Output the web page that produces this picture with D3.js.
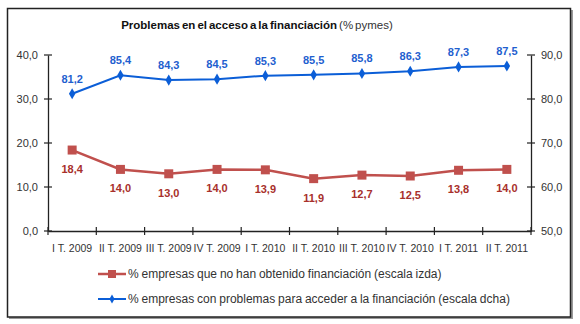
<!DOCTYPE html>
<html><head><meta charset="utf-8">
<script src="https://cdn.jsdelivr.net/npm/d3@7"></script>
<style>body{margin:0;background:#fff}svg{display:block}</style>
</head><body>
<svg id="c" width="580" height="324"></svg>
<script>
const categories = ["I T. 2009","II T. 2009","III T. 2009","IV T. 2009","I T. 2010","II T. 2010","III T. 2010","IV T. 2010","I T. 2011","II T. 2011"];
const redValues = [18.4,14.0,13.0,14.0,13.9,11.9,12.7,12.5,13.8,14.0];
const blueValues = [81.2,85.4,84.3,84.5,85.3,85.5,85.8,86.3,87.3,87.5];
const leftTicks = [0,10,20,30,40];
const rightTicks = [50,60,70,80,90];
const redName = "% empresas que no han obtenido financiación (escala izda)";
const blueName = "% empresas con problemas para acceder a la financiación (escala dcha)";

const svg = d3.select("#c");
const font = "'Liberation Sans', Arial, sans-serif";
const fmt = v => d3.format(".1f")(v).replace(".", ",");

// frame with shadow
svg.append("rect").attr("x",9).attr("y",10).attr("width",564).attr("height",309).attr("fill","#999");
svg.append("rect").attr("x",7.5).attr("y",8.5).attr("width",563).attr("height",308.5).attr("fill","#fff").attr("stroke","#222").attr("stroke-width",1.5);

const x = d3.scaleBand().domain(categories).range([48,531]);
const yL = d3.scaleLinear().domain([0,40]).range([231,55]);
const yR = d3.scaleLinear().domain([50,90]).range([231,55]);

// title
const t = svg.append("text").attr("x",258).attr("y",29).attr("text-anchor","middle")
  .attr("font-family",font).attr("font-size",11.5).attr("word-spacing",-1.2).attr("fill","#111");
t.append("tspan").attr("font-weight","bold").text("Problemas en el acceso a la financiación ");
t.append("tspan").attr("fill","#333").text("(% pymes)");
t.attr("x", 257);

// axes
const axL = svg.append("g").attr("transform","translate(48,0)")
  .call(d3.axisLeft(yL).tickValues(leftTicks).tickFormat(fmt).tickSize(0));
const axR = svg.append("g").attr("transform","translate(531,0)")
  .call(d3.axisRight(yR).tickValues(rightTicks).tickFormat(fmt).tickSize(0));
[axL, axR].forEach(a => {
  a.select(".domain").attr("stroke","#222").attr("stroke-width",1.3);
  a.selectAll("text").attr("font-family",font).attr("font-size",11).attr("fill","#333");
});
axL.selectAll("text").attr("x",-10);
axR.selectAll("text").attr("x",10);
leftTicks.forEach(v => svg.append("line").attr("x1",44).attr("x2",52).attr("y1",yL(v)).attr("y2",yL(v)).attr("stroke","#222").attr("stroke-width",1.2));
rightTicks.forEach(v => svg.append("line").attr("x1",527).attr("x2",535).attr("y1",yR(v)).attr("y2",yR(v)).attr("stroke","#222").attr("stroke-width",1.2));

// x axis
const axX = svg.append("g").attr("transform","translate(0,231)")
  .call(d3.axisBottom(x).tickSize(0));
axX.select(".domain").attr("stroke","#222").attr("stroke-width",1.3);
axX.selectAll("text").attr("font-family",font).attr("font-size",10.5).attr("fill","#333").attr("y",14);
const bounds = categories.map(c => x(c)).concat([x(categories[categories.length-1]) + x.bandwidth()]);
bounds.forEach(b => svg.append("line").attr("x1",b).attr("x2",b).attr("y1",227).attr("y2",235).attr("stroke","#222").attr("stroke-width",1.2));

const cx = c => x(c) + x.bandwidth()/2;

const redC = "#c0504d", blueC = "#0b5ed7";
// blue series
svg.append("path").datum(blueValues)
  .attr("d", d3.line().x((d,i)=>cx(categories[i])).y(d=>yR(d)))
  .attr("fill","none").attr("stroke",blueC).attr("stroke-width",2);
svg.selectAll(".bm").data(blueValues).enter().append("path")
  .attr("d", d3.symbol(d3.symbolDiamond, 36)())
  .attr("transform",(d,i)=>`translate(${cx(categories[i])},${yR(d)})`).attr("fill",blueC);
svg.selectAll(".bl").data(blueValues).enter().append("text")
  .attr("x",(d,i)=>cx(categories[i])).attr("y",d=>yR(d)-11).attr("text-anchor","middle")
  .attr("font-family",font).attr("font-size",11).attr("font-weight","bold").attr("fill","#1f5fcf")
  .text(fmt);

// red series
svg.append("path").datum(redValues)
  .attr("d", d3.line().x((d,i)=>cx(categories[i])).y(d=>yL(d)))
  .attr("fill","none").attr("stroke",redC).attr("stroke-width",2.5);
svg.selectAll(".rm").data(redValues).enter().append("rect")
  .attr("x",(d,i)=>cx(categories[i])-4.5).attr("y",d=>yL(d)-4.5).attr("width",9).attr("height",9).attr("fill",redC);
svg.selectAll(".rl").data(redValues).enter().append("text")
  .attr("x",(d,i)=>cx(categories[i])).attr("y",d=>yL(d)+23).attr("text-anchor","middle")
  .attr("font-family",font).attr("font-size",11).attr("font-weight","bold").attr("fill","#a8302b")
  .text(fmt);

// legend
const lg = [{name:redName,c:redC,type:"sq",y:274},{name:blueName,c:blueC,type:"dm",y:299}];
lg.forEach(l => {
  svg.append("line").attr("x1",98).attr("x2",126).attr("y1",l.y).attr("y2",l.y).attr("stroke",l.c).attr("stroke-width",l.type==="sq"?2.5:2);
  if (l.type==="sq") svg.append("rect").attr("x",108).attr("y",l.y-4).attr("width",8).attr("height",8).attr("fill",l.c);
  else svg.append("path").attr("d",d3.symbol(d3.symbolDiamond,24)()).attr("transform",`translate(112,${l.y})`).attr("fill",l.c);
  svg.append("text").attr("x",128).attr("y",l.y+4).attr("font-family",font).attr("font-size",12).attr("word-spacing",-0.5).attr("fill","#333").text(l.name);
});
</script>
</body></html>
